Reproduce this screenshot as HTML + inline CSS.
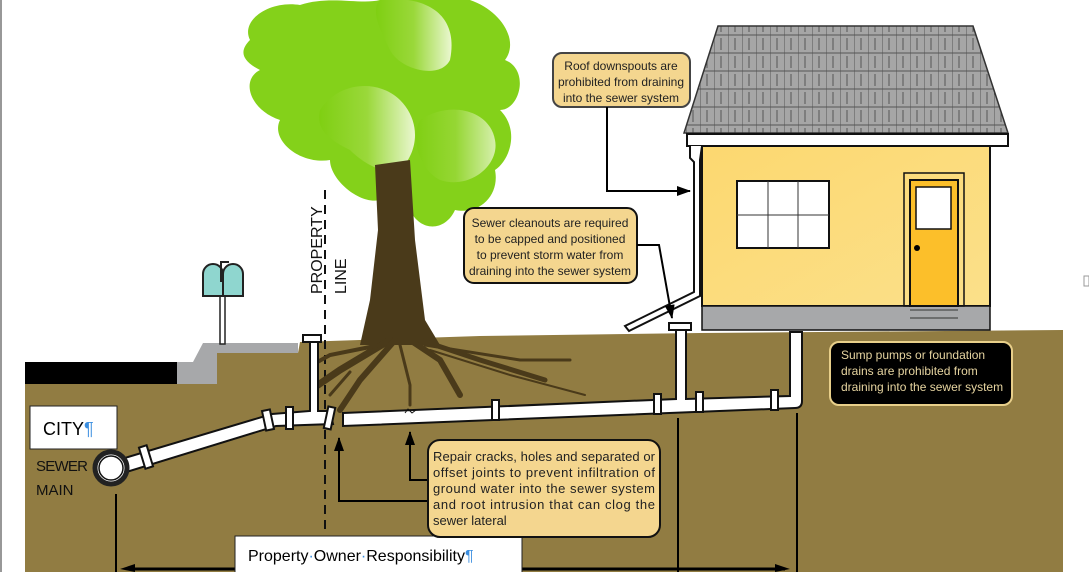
<!DOCTYPE html>
<html><head><meta charset="utf-8"><style>
html,body{margin:0;padding:0;background:#fff;width:1089px;height:572px;overflow:hidden}
svg{display:block}
text{font-family:"Liberation Sans",sans-serif}
</style></head><body>
<svg width="1089" height="572" viewBox="0 0 1089 572" xmlns="http://www.w3.org/2000/svg">
<defs>
<linearGradient id="lg" x1="0" y1="0" x2="1" y2="0"><stop offset="0" stop-color="#7fcf12"/><stop offset="0.5" stop-color="#9ad83a"/><stop offset="1" stop-color="#eaf7d0"/></linearGradient>
<linearGradient id="wall" x1="0" y1="0" x2="1" y2="1"><stop offset="0" stop-color="#fcd870"/><stop offset="1" stop-color="#fbe08a"/></linearGradient>
<pattern id="shing" width="14" height="18" patternUnits="userSpaceOnUse"><rect width="14" height="18" fill="#a6a6a6"/><path d="M0 0V18M7 2V14M0 17H14" stroke="#555" stroke-width="1"/></pattern>
<marker id="ahb" markerWidth="14" markerHeight="10" refX="13" refY="5" orient="auto" markerUnits="userSpaceOnUse"><path d="M0 0L14 5L0 10z" fill="#000"/></marker>
</defs>
<line x1="1" y1="0" x2="1" y2="572" stroke="#777" stroke-width="1.5"/>
<!-- ground -->
<path d="M25 384 L217 384 L217 353 L298 353 L300 342 L480 336 L700 333 L1063 330 L1063 572 L25 572Z" fill="#917c42"/>
<!-- street -->
<rect x="25" y="362" width="153" height="22" fill="#000"/>
<path d="M177 362 L193 362 L203 343 L298 343 L298 353 L217 353 L217 384 L177 384Z" fill="#a7a8aa"/>
<!-- mailbox -->
<rect x="220" y="292" width="5" height="52" fill="#fff" stroke="#222" stroke-width="1.5"/>
<path d="M203 296 V274 a10 10 0 0 1 20 0 V296Z M223 296 V274 a10 10 0 0 1 20 0 V296Z" fill="#8fd6cf" stroke="#222" stroke-width="2"/>
<path d="M221 282 V262 H229" fill="none" stroke="#222" stroke-width="2"/>
<!-- property line -->
<line x1="325" y1="190" x2="325" y2="530" stroke="#111" stroke-width="2" stroke-dasharray="9,6"/>
<text transform="translate(322,294) rotate(-90)" font-size="16" fill="#111">PROPERTY</text>
<text transform="translate(346,294) rotate(-90)" font-size="16" fill="#111">LINE</text>
<!-- canopy -->
<g>
<path d="M250 40 C240 20 270 0 300 5 C330 -5 360 5 380 0 L470 0 C500 10 520 40 505 60 C530 70 520 110 500 110 C520 130 510 160 495 170 C500 195 480 215 455 210 C445 232 420 232 410 210 C395 225 380 215 380 200 C360 205 330 180 330 160 C300 165 270 140 280 120 C250 110 240 80 260 70 C240 60 240 50 250 40Z" fill="#84d11a"/>
<path d="M380 0 C420 -5 460 10 450 60 C440 80 400 70 390 50 C380 30 370 10 380 0Z" fill="url(#lg)"/>
<path d="M320 110 C340 80 380 80 400 100 C420 120 420 150 400 170 C380 175 360 160 350 150 C330 140 315 130 320 110Z" fill="url(#lg)"/>
<path d="M420 120 C450 100 490 110 495 140 C500 165 470 190 440 180 C420 170 410 140 420 120Z" fill="url(#lg)" opacity="0.8"/>
</g>
<!-- trunk -->
<path d="M375 165 L410 160 L415 240 L425 320 L440 345 L360 345 L370 300 L378 230Z" fill="#4a3a1a"/>
<!-- roots -->
<g stroke="#4a3a1a" fill="none" stroke-linecap="round">
<path d="M390 340 L340 370 L318 385" stroke-width="7"/>
<path d="M395 340 L360 380 L340 410" stroke-width="6"/>
<path d="M410 340 L440 360 L460 395" stroke-width="6"/>
<path d="M420 340 L480 360 L545 380" stroke-width="5"/>
<path d="M425 345 L520 360 L570 360" stroke-width="3"/>
<path d="M400 345 L410 385 L410 405" stroke-width="3"/>
<path d="M380 345 L330 355 L312 365" stroke-width="4"/>
<path d="M430 350 L510 375 L585 395" stroke-width="2"/>
<path d="M350 372 L330 395" stroke-width="3"/>
</g>
<!-- pipes -->
<g stroke="#111" stroke-width="2" fill="#fff">
<path d="M118 460 L272 414 L310 411 L310 342 L318 342 L318 411 L330 411 L333 424 L276 426 L123 473Z"/>
<rect x="303" y="335" width="18" height="7"/>
<path d="M343 413 L676 399 L676 329 L686 329 L686 399 L790 396 L790 332 L802 332 L802 401 Q802 408 795 408 L343 426Z"/>
<rect x="669" y="323" width="22" height="7"/>
<rect x="142" y="446" width="8" height="22" transform="rotate(-17 146 457)"/>
<rect x="264" y="410" width="8" height="20" transform="rotate(-12 268 420)"/>
<rect x="286" y="407" width="7" height="22"/>
<rect x="326" y="407" width="7" height="22" transform="rotate(12 330 418)"/>
<rect x="492" y="400" width="7" height="20"/>
<rect x="654" y="394" width="7" height="20"/>
<rect x="696" y="392" width="7" height="20"/>
<rect x="771" y="390" width="7" height="20"/>
<circle cx="111" cy="468" r="16" stroke-width="5" stroke="#222"/>
<circle cx="111" cy="468" r="12" stroke-width="1.5"/>
</g>
<path d="M405 413 l3 -4 l4 4 l4 -3" stroke="#111" fill="none" stroke-width="1"/>
<!-- arrows to pipe -->
<path d="M430 480 H410 V432" stroke="#000" stroke-width="2" fill="none" marker-end="url(#ahb)"/>
<path d="M430 501 H339 V438" stroke="#000" stroke-width="2" fill="none" marker-end="url(#ahb)"/>
<!-- dimension lines -->
<line x1="116" y1="494" x2="116" y2="572" stroke="#000" stroke-width="2"/>
<line x1="678" y1="418" x2="678" y2="572" stroke="#000" stroke-width="2"/>
<line x1="797" y1="413" x2="797" y2="572" stroke="#000" stroke-width="2"/>
<line x1="130" y1="569" x2="785" y2="569" stroke="#000" stroke-width="3"/>
<path d="M120 569 L135 564 L135 572Z M790 569 L775 564 L775 572Z" fill="#000"/>
<!-- CITY box -->
<rect x="30" y="406" width="87" height="43" fill="#fff" stroke="#222" stroke-width="1"/>
<text x="43" y="435" font-size="18" fill="#000">CITY<tspan fill="#3a8ee0">¶</tspan></text>
<text x="36" y="471" font-size="15" fill="#111" textLength="52">SEWER</text>
<text x="36" y="495" font-size="15" fill="#111">MAIN</text>
<!-- property owner box -->
<rect x="235" y="536" width="287" height="40" fill="#fff" stroke="#222" stroke-width="1"/>
<text x="248" y="561" font-size="16" fill="#000">Property<tspan fill="#3a8ee0">·</tspan>Owner<tspan fill="#3a8ee0">·</tspan>Responsibility<tspan fill="#3a8ee0">¶</tspan></text>
<!-- repair box -->
<rect x="428" y="440" width="232" height="97" rx="12" fill="#f4d68f" stroke="#111" stroke-width="2"/>
<g font-size="13" fill="#222">
<text x="433" y="461" textLength="222">Repair cracks, holes and separated or</text>
<text x="433" y="477" textLength="222">offset joints to prevent infiltration of</text>
<text x="433" y="493" textLength="222">ground water into the sewer system</text>
<text x="433" y="509" textLength="222">and root intrusion that can clog the</text>
<text x="433" y="525">sewer lateral</text>
</g>
<!-- house -->
<path d="M718 26 L973 26 L1008 133 L684 133Z" fill="url(#shing)" stroke="#333" stroke-width="1.5"/>
<rect x="702" y="146" width="288" height="160" fill="url(#wall)" stroke="#111" stroke-width="2"/>
<rect x="687" y="134" width="321" height="12" fill="#fff" stroke="#111" stroke-width="2"/>
<rect x="702" y="306" width="288" height="24" fill="#a7a8aa" stroke="#111" stroke-width="1.5"/>
<path d="M910 310 H958 M910 318 H958" stroke="#333" stroke-width="1"/>
<rect x="737" y="181" width="92" height="67" fill="#fff" stroke="#111" stroke-width="2"/>
<path d="M768 181 V248 M798 181 V248 M737 215 H829" stroke="#333" stroke-width="1"/>
<rect x="904" y="173" width="60" height="133" fill="none" stroke="#111" stroke-width="1.5"/>
<rect x="910" y="180" width="48" height="126" fill="#fcbf2a" stroke="#111" stroke-width="2"/>
<rect x="916" y="187" width="35" height="42" fill="#fff" stroke="#111" stroke-width="1.5"/>
<circle cx="917" cy="248" r="3" fill="#000"/>
<!-- downspout -->
<path d="M690 146 V158 L694 162 V292 L625 326 L629 331 L700 296 V160 L702 146" fill="#fff" stroke="#111" stroke-width="2"/>
<!-- roof box -->
<rect x="553" y="53" width="137" height="54" rx="9" fill="#f4d68f" stroke="#444" stroke-width="2"/>
<g font-size="12" fill="#222" text-anchor="middle">
<text x="621" y="70">Roof downspouts are</text>
<text x="621" y="86">prohibited from draining</text>
<text x="621" y="102">into the sewer system</text>
</g>
<path d="M607 107 V191 H690" stroke="#000" stroke-width="2" fill="none" marker-end="url(#ahb)"/>
<!-- cleanout box -->
<rect x="464" y="208" width="173" height="75" rx="10" fill="#f4d68f" stroke="#111" stroke-width="2"/>
<g font-size="12" fill="#222" text-anchor="middle">
<text x="550" y="227">Sewer cleanouts are required</text>
<text x="550" y="243">to be capped and positioned</text>
<text x="550" y="259">to prevent storm water from</text>
<text x="550" y="275">draining into the sewer system</text>
</g>
<path d="M637 245 H659 L672 318" stroke="#000" stroke-width="2" fill="none" marker-end="url(#ahb)"/>
<!-- sump box -->
<rect x="830" y="342" width="182" height="63" rx="9" fill="#000" stroke="#e8cf8a" stroke-width="2"/>
<g font-size="12" fill="#e6d4a0">
<text x="841" y="359">Sump pumps or foundation</text>
<text x="841" y="375">drains are prohibited from</text>
<text x="841" y="391">draining into the sewer system</text>
</g>
<rect x="1084" y="276" width="5" height="10" fill="none" stroke="#999" stroke-width="1"/>
</svg>
</body></html>
